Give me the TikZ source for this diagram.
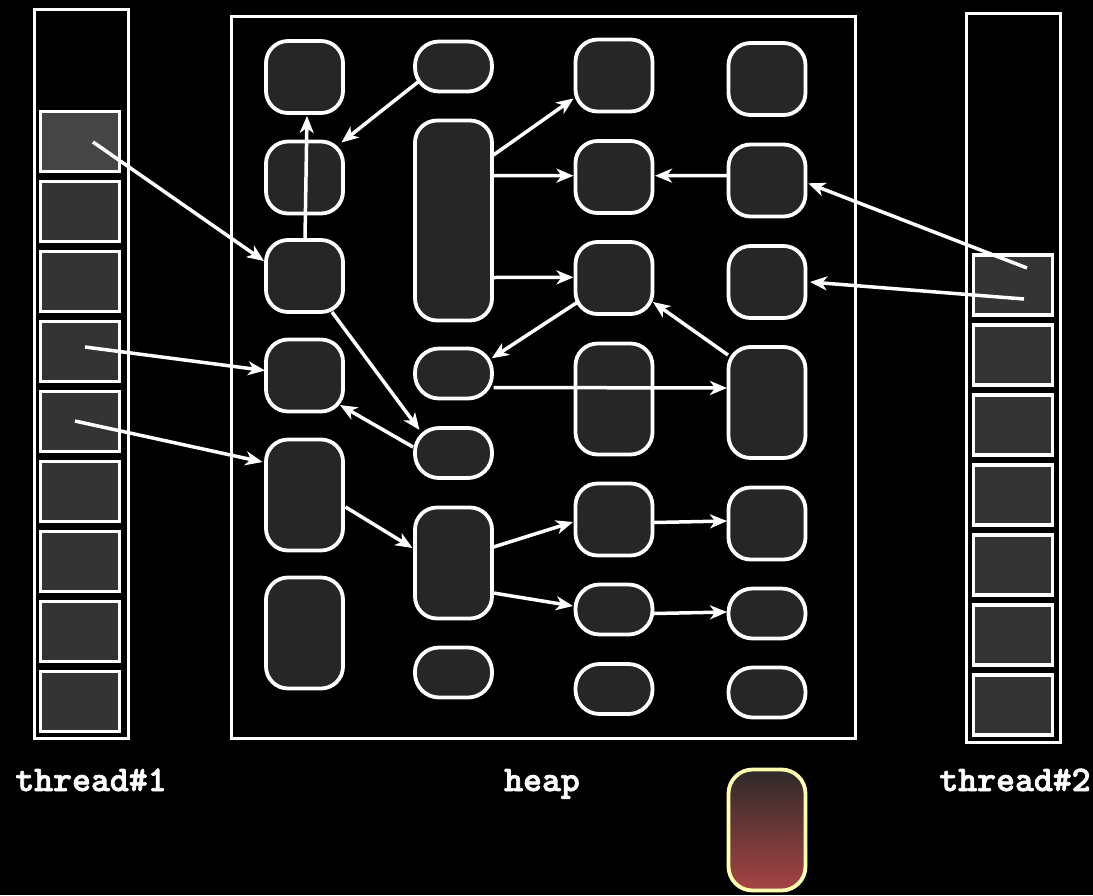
\documentclass[tikz,border=0pt]{standalone}
\usepackage{fontspec}
\newfontfamily\labelfont[BoldFeatures={FakeBold=2}]{Latin Modern Mono Light}
\usetikzlibrary{arrows.meta}
\definecolor{objfill}{HTML}{262626}
\definecolor{cellfill}{HTML}{343434}
\definecolor{topcell}{HTML}{454545}
\definecolor{newtop}{HTML}{2E2A2A}
\definecolor{newbot}{HTML}{A84444}
\definecolor{newedge}{HTML}{FFFFB0}
\begin{document}
\begin{tikzpicture}[x=1pt,y=-1pt,
  frame/.style={draw=white,line width=3.8pt},
  cell/.style={draw=white,line width=3.8pt,fill=cellfill,minimum width=79pt,minimum height=60pt,inner sep=0pt,outer sep=0pt},
  obj/.style={draw=white,line width=3.8pt,fill=objfill,rounded corners=22pt,minimum width=77pt,inner sep=0pt,outer sep=0pt},
  sq/.style={obj,minimum height=72pt},
  tall/.style={obj,minimum height=111pt},
  small/.style={obj,minimum height=50pt,rounded corners=24pt},
  ref/.style={draw=white,line width=3.5pt,-{Stealth[length=17pt,width=14pt,inset=5pt]}},
  lbl/.style={text=white,font=\labelfont\bfseries\fontsize{36}{40}\selectfont,anchor=base,inner sep=0pt}
]
\fill[black] (0,0) rectangle (1093,895);
\useasboundingbox (0,0) rectangle (1093,895);

% thread stacks and heap outline
\draw[frame] (34.5,9.5) rectangle (128.5,738.5);
\draw[frame] (966.5,13.5) rectangle (1060.5,742.5);
\draw[frame] (231.5,16.5) rectangle (855.5,738.5);

% stack frames of thread#1
\foreach \k in {1,...,9}
  \node[cell] (s\k) at (80,{141.5+70*(\k-1)}) {};
\node[cell,fill=topcell] at (s1) {};
% stack frames of thread#2
\foreach \k in {1,...,7}
  \node[cell] (t\k) at (1013,{285+70*(\k-1)}) {};

% heap objects, column by column
\node[sq]   (A1) at (304.5,77) {};
\node[sq]   (A2) at (304.5,177.5) {};
\node[sq]   (A3) at (304.5,276) {};
\node[sq]   (A4) at (304.5,375.5) {};
\node[tall] (A5) at (304.5,495) {};
\node[tall] (A6) at (304.5,633) {};

\node[small] (B1) at (453.5,66.5) {};
\node[obj,minimum height=200pt] (B2) at (453.5,220.5) {};
\node[small] (B3) at (453.5,373.5) {};
\node[small] (B4) at (453.5,453) {};
\node[tall]  (B5) at (453.5,563) {};
\node[small] (B6) at (453.5,672.5) {};

\node[sq]    (C1) at (614,75.5) {};
\node[sq]    (C2) at (614,177) {};
\node[sq]    (C3) at (614,278) {};
\node[tall]  (C4) at (614,399) {};
\node[sq]    (C5) at (614,519.5) {};
\node[small] (C6) at (614,609.5) {};
\node[small] (C7) at (614,689) {};

\node[sq]    (D1) at (767,79) {};
\node[sq]    (D2) at (767,180.5) {};
\node[sq]    (D3) at (767,282) {};
\node[tall]  (D4) at (767,402.5) {};
\node[sq]    (D5) at (767,523.5) {};
\node[small] (D6) at (767,613.5) {};
\node[small] (D7) at (767,692.5) {};

% newly allocated object
\node[draw=newedge,line width=3.8pt,rounded corners=24pt,top color=newtop,bottom color=newbot,
      minimum width=77pt,minimum height=121pt,inner sep=0pt,outer sep=0pt] (N) at (767,830) {};

% references
\draw[ref] ([shift={(13,0.5)}]s1.center) -- ([shift={(-40.5,-15)}]A3.center);
\draw[ref] ([shift={(0.5,-38)}]A3.center) -- ([shift={(2.5,39)}]A1.center);
\draw[ref] ([shift={(-35.5,15.5)}]B1.center) -- ([shift={(37,-35)}]A2.center);
\draw[ref] ([shift={(5,-4.5)}]s4.center) -- ([shift={(-39.5,-5)}]A4.center);
\draw[ref] ([shift={(-5,-0.5)}]s5.center) -- ([shift={(-42,-33)}]A5.center);
\draw[ref] ([shift={(27.5,36)}]A3.center) -- ([shift={(-34,-23)}]B4.center);
\draw[ref] ([shift={(-40.5,-6)}]B4.center) -- ([shift={(35.5,29.5)}]A4.center);
\draw[ref] ([shift={(41,12)}]A5.center) -- ([shift={(-41,-15)}]B5.center);
\draw[ref] ([shift={(40,-65.5)}]B2.center) -- ([shift={(-40.5,23)}]C1.center);
\draw[ref] ([shift={(40,-45)}]B2.center) -- ([shift={(-40.5,-1.3)}]C2.center);
\draw[ref] ([shift={(40,57)}]B2.center) -- ([shift={(-40.5,-0.7)}]C3.center);
\draw[ref] ([shift={(-37.3,24.7)}]C3.center) -- ([shift={(38.2,-15.2)}]B3.center);
\draw[ref] ([shift={(40,14)}]B3.center) -- ([shift={(-40,-14.5)}]D4.center);
\draw[ref] ([shift={(-39,-47.5)}]D4.center) -- ([shift={(39,24)}]C3.center);
\draw[ref] ([shift={(-40,-5)}]D2.center) -- ([shift={(41,-1.3)}]C2.center);
\draw[ref] ([shift={(14,-17)}]t1.center) -- ([shift={(41.3,2.8)}]D2.center);
\draw[ref] ([shift={(11,14)}]t1.center) -- ([shift={(43,0)}]D3.center);
\draw[ref] ([shift={(40,-16)}]B5.center) -- ([shift={(-41,2.5)}]C5.center);
\draw[ref] ([shift={(40,30)}]B5.center) -- ([shift={(-41,-3.5)}]C6.center);
\draw[ref] ([shift={(40,3)}]C5.center) -- ([shift={(-40,-2.5)}]D5.center);
\draw[ref] ([shift={(40,4)}]C6.center) -- ([shift={(-40,-1.5)}]D6.center);

% captions
\node[lbl] (l1) at (91,791) {thread\#1};
\node[lbl] (l2) at (542,791) {heap};
\node[lbl] (l3) at (1015,791) {thread\#2};
\end{tikzpicture}
\end{document}
